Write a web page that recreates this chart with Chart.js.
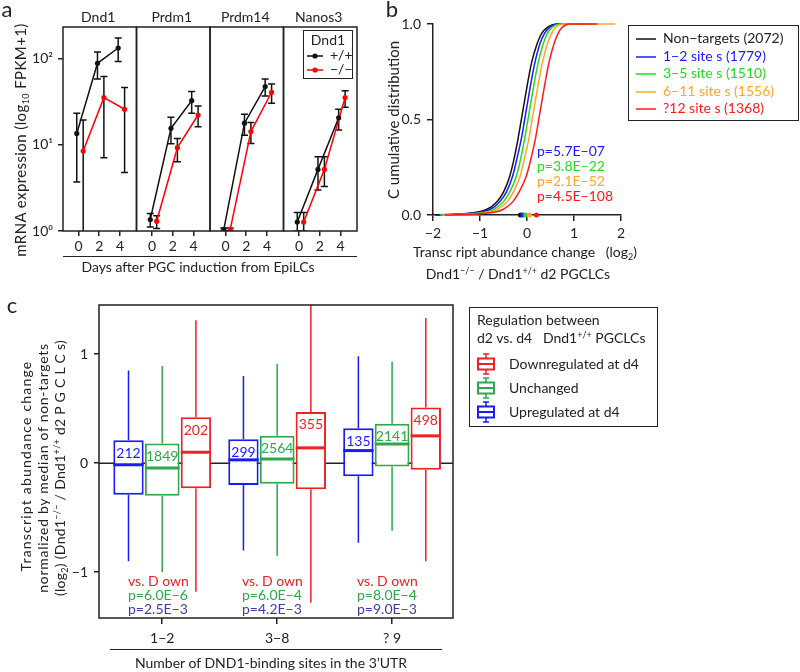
<!DOCTYPE html>
<html>
<head>
<meta charset="utf-8">
<script src="https://cdn.jsdelivr.net/npm/chart.js@4.4.1/dist/chart.umd.min.js"></script>
<style>
body { margin: 0; background: #fff; font-family: Lato, sans-serif; color: #222; }
#page { position: relative; width: 800px; height: 672px; overflow: hidden; }
canvas { position: absolute; left: 0; top: 0; }
.t { position: absolute; white-space: nowrap; line-height: 1; }
.t sup { font-size: 9px; vertical-align: 5px; line-height: 0; }
.t sub { font-size: 9px; vertical-align: -3px; line-height: 0; }
.box { position: absolute; border: 1.5px solid #222; box-sizing: border-box; }
.hl { position: absolute; border-top: 1.5px solid #222; height: 0; }
</style>
</head>
<body>
<div id="page"></div>
<script>
/* ---- panel a: expression time course ---- */
const days = [0, 2, 4];
const genes = ["Dnd1", "Prdm1", "Prdm14", "Nanos3"];
const wtMean = [[13.6, 89, 134], [1.36, 15.6, 32.7], [1.04, 17.9, 47.7], [1.27, 5.2, 20.7]];
const wtLow  = [[3.7, 58.6, 93.3], [1.11, 10.3, 23.4], [1.0, 13, 37.1], [1.0, 3.0, 14.9]];
const wtHigh = [[23.4, 120, 175], [1.6, 21, 41.7], [1.08, 22.7, 58.6], [1.64, 7.3, 26]];
const koMean = [[8.5, 35.5, 26], [1.3, 9.3, 22.3], [1.04, 14.3, 41], [1.27, 5.2, 35.5]];
const koLow  = [[0.5, 7.1, 4.8], [1.07, 6.4, 16.3], [1.0, 10.4, 30.5], [1.0, 3.3, 27.4]];
const koHigh = [[19.5, 62.4, 46.4], [1.5, 11.9, 28.4], [1.08, 18.3, 51.2], [1.64, 7.3, 42.8]];
const exprTicks = [1, 10, 100];
const exprTickLabels = ["10⁰", "10¹", "10²"];

/* ---- panel b: cumulative distributions ---- */
const cdfLevels   = [0, 0.01, 0.03, 0.07, 0.12, 0.2, 0.3, 0.4, 0.5, 0.6, 0.7, 0.8, 0.9, 0.95, 0.98, 1, 1];
const nonTargetX  = [-1.95, -1.2, -0.85, -0.64, -0.5, -0.37, -0.27, -0.19, -0.12, -0.05, 0.02, 0.1, 0.22, 0.31, 0.42, 0.65, 1.3];
const sites1to2X  = [-1.9, -1.1, -0.78, -0.58, -0.44, -0.31, -0.21, -0.12, -0.05, 0.02, 0.09, 0.17, 0.28, 0.37, 0.47, 0.68, 1.35];
const sites3to5X  = [-1.85, -1.0, -0.7, -0.5, -0.37, -0.23, -0.13, -0.05, 0.02, 0.09, 0.16, 0.24, 0.35, 0.43, 0.52, 0.72, 1.4];
const sites6to11X = [-1.8, -0.92, -0.62, -0.42, -0.29, -0.15, -0.05, 0.04, 0.11, 0.18, 0.25, 0.33, 0.44, 0.52, 0.6, 0.78, 1.88];
const sites12X    = [-1.75, -0.82, -0.5, -0.3, -0.17, -0.02, 0.09, 0.18, 0.25, 0.32, 0.39, 0.47, 0.58, 0.66, 0.74, 0.9, 1.5];
const setNames = ["Non−targets (2072)", "1−2 site s (1779)", "3−5 site s (1510)", "6−11 site s (1556)", "?12 site  s (1368)"];
const setMedians = [-0.14, -0.09, -0.03, 0.05, 0.2];
const setPValues = ["", "p=5.7E−07", "p=3.8E−22", "p=2.1E−52", "p=4.5E−108"];
const changeTicks = [-2, -1, 0, 1, 2];
const cdfTicks = [0, 0.5, 1];

/* ---- panel c: box plots (min, q1, median, q3, max) ---- */
const siteGroups = ["1−2", "3−8", "? 9"];
const regNames = ["Upregulated at d4", "Unchanged", "Downregulated at d4"];
const upregulated   = [[-0.90, -0.29, -0.015, 0.21, 0.85], [-0.80, -0.20, 0.03, 0.22, 0.80], [-0.73, -0.12, 0.115, 0.32, 0.98]];
const unchanged     = [[-1.00, -0.30, -0.045, 0.18, 0.89], [-0.85, -0.19, 0.037, 0.25, 0.91], [-0.62, -0.03, 0.175, 0.36, 0.93]];
const downregulated = [[-1.18, -0.23, 0.10, 0.42, 1.31], [-1.28, -0.24, 0.14, 0.47, 1.6], [-0.90, -0.06, 0.25, 0.51, 1.33]];
const upCounts = [212, 299, 135];
const unchangedCounts = [1849, 2564, 2141];
const downCounts = [202, 355, 498];
const vsLabel = "vs. D own";
const pUnchanged = ["p=6.0E−6", "p=6.0E−4", "p=8.0E−4"];
const pUp = ["p=2.5E−3", "p=4.2E−3", "p=9.0E−3"];
const changeAxisTicks = [-1, 0, 1];

/* styles */
const W = 800, H = 672;
const setColors = ["#111111", "#1a1aff", "#22dd22", "#ffa726", "#ff1a1a"];
const regColors = ["#1a1aff", "#2ea84a", "#ee2222"];
const WT_DODGE = -0.17, KO_DODGE = 0.45;

Chart.defaults.font.family = "Lato";
Chart.defaults.font.size = 14;
Chart.defaults.color = "#222";
Chart.defaults.animation = false;
Chart.defaults.responsive = false;
Chart.defaults.devicePixelRatio = 1;
Chart.defaults.plugins.legend.display = false;
Chart.defaults.plugins.tooltip.enabled = false;

const page = document.getElementById("page");

function makeCanvas() {
    const c = document.createElement("canvas");
    c.width = W; c.height = H;
    page.appendChild(c);
    return c;
}

// chart area placed exactly; yW / xH = room kept for the axis labels
function areaPadding(a, yW, xH) {
    return { left: a.left - yW, top: a.top, right: W - a.right, bottom: H - a.bottom - xH };
}

const fixW = w => s => { s.width = w; };
const fixH = h => s => { s.height = h; };
const setTicks = vals => s => { s.ticks = vals.map(v => ({ value: v })); };
const minus = v => String(v).replace("-", "−");

function tickGrid(len) {
    return { drawOnChartArea: false, drawTicks: true, tickLength: len, color: "#222", lineWidth: 1.5, offset: false };
}

function clipArea(ctx, a) {
    ctx.beginPath();
    ctx.rect(a.left, a.top, a.right - a.left, a.bottom - a.top);
    ctx.clip();
}

/* PLUGINS */
const framePlugin = {
    id: "frame",
    afterDraw(chart) {
        const a = chart.chartArea, ctx = chart.ctx;
        ctx.save();
        ctx.strokeStyle = "#222";
        ctx.lineWidth = 1.5;
        ctx.strokeRect(a.left, a.top, a.right - a.left, a.bottom - a.top);
        ctx.restore();
    }
};

const errorBarPlugin = {
    id: "errorBars",
    beforeDatasetsDraw(chart) {
        const { ctx, chartArea, scales: { x, y } } = chart;
        ctx.save();
        clipArea(ctx, chartArea);
        ctx.strokeStyle = "#111";
        ctx.lineWidth = 1.5;
        chart.data.datasets.forEach(ds => {
            ds.data.forEach((p, i) => {
                const px = x.getPixelForValue(p.x);
                const top = y.getPixelForValue(ds.errHigh[i]);
                const bot = y.getPixelForValue(ds.errLow[i]);
                ctx.beginPath();
                ctx.moveTo(px, top); ctx.lineTo(px, bot);
                ctx.moveTo(px - 3.5, top); ctx.lineTo(px + 3.5, top);
                ctx.moveTo(px - 3.5, bot); ctx.lineTo(px + 3.5, bot);
                ctx.stroke();
            });
        });
        ctx.restore();
    }
};

const boxPlugin = {
    id: "boxWhiskers",
    beforeDatasetsDraw(chart) {
        const { ctx, chartArea, scales: { y } } = chart;
        ctx.save();
        clipArea(ctx, chartArea);
        ctx.strokeStyle = "#222";
        ctx.lineWidth = 1.5;
        ctx.beginPath();
        ctx.moveTo(chartArea.left, y.getPixelForValue(0));
        ctx.lineTo(chartArea.right, y.getPixelForValue(0));
        ctx.stroke();
        chart.data.datasets.forEach((ds, di) => {
            chart.getDatasetMeta(di).data.forEach((bar, i) => {
                const s = ds.stats[i];
                ctx.strokeStyle = ds.borderColor;
                ctx.lineWidth = 1.5;
                ctx.beginPath();
                ctx.moveTo(bar.x, y.getPixelForValue(s[0]));
                ctx.lineTo(bar.x, y.getPixelForValue(s[1]));
                ctx.moveTo(bar.x, y.getPixelForValue(s[3]));
                ctx.lineTo(bar.x, y.getPixelForValue(s[4]));
                ctx.stroke();
            });
        });
        ctx.restore();
    },
    afterDatasetsDraw(chart) {
        const { ctx, scales: { y } } = chart;
        ctx.save();
        chart.data.datasets.forEach((ds, di) => {
            chart.getDatasetMeta(di).data.forEach((bar, i) => {
                const s = ds.stats[i];
                const my = y.getPixelForValue(s[2]);
                ctx.strokeStyle = ds.borderColor;
                ctx.lineWidth = 3;
                ctx.beginPath();
                ctx.moveTo(bar.x - bar.width / 2, my);
                ctx.lineTo(bar.x + bar.width / 2, my);
                ctx.stroke();
                ctx.fillStyle = ds.borderColor;
                ctx.font = "14px Lato";
                ctx.textAlign = "center";
                ctx.textBaseline = "middle";
                ctx.fillText(String(ds.counts[i]), bar.x, y.getPixelForValue(s[3]) + 13);
            });
        });
        ctx.restore();
    }
};

/* PANEL A */
const geneLeft = 63, genePanelW = 73.5;
genes.forEach((g, gi) => {
    const area = { left: geneLeft + gi * genePanelW, right: geneLeft + (gi + 1) * genePanelW, top: 27, bottom: 231 };
    const yW = gi === 0 ? 45 : 0;
    new Chart(makeCanvas(), {
        type: "line",
        data: {
            datasets: [
                {
                    label: "−/−",
                    data: days.map((d, i) => ({ x: d + KO_DODGE, y: koMean[gi][i] })),
                    errLow: koLow[gi], errHigh: koHigh[gi],
                    borderColor: "#ff0000", backgroundColor: "#ff0000", order: 2
                },
                {
                    label: "+/+",
                    data: days.map((d, i) => ({ x: d + WT_DODGE, y: wtMean[gi][i] })),
                    errLow: wtLow[gi], errHigh: wtHigh[gi],
                    borderColor: "#111", backgroundColor: "#111", order: 1
                }
            ]
        },
        options: {
            layout: { padding: areaPadding(area, yW, 30) },
            elements: { line: { borderWidth: 1.5 }, point: { radius: 2.6, borderWidth: 0 } },
            scales: {
                x: {
                    type: "linear", min: -1.5, max: 5.6, offset: false,
                    afterFit: fixH(30), afterBuildTicks: setTicks(days),
                    ticks: { padding: 2, autoSkip: false, maxRotation: 0 },
                    grid: tickGrid(5), border: { display: false }
                },
                y: {
                    type: "logarithmic", min: 1, max: 235, display: gi === 0,
                    afterFit: fixW(yW), afterBuildTicks: setTicks(exprTicks),
                    ticks: { padding: 5, autoSkip: false, callback: v => exprTickLabels[exprTicks.indexOf(v)] },
                    grid: tickGrid(5), border: { display: false }
                }
            }
        },
        plugins: [errorBarPlugin, framePlugin]
    });
});

/* PANEL B */
const curveX = [nonTargetX, sites1to2X, sites3to5X, sites6to11X, sites12X];
const areaB = { left: 433, right: 621, top: 24, bottom: 215 };
new Chart(makeCanvas(), {
    type: "line",
    data: {
        datasets: [
            {
                label: "medians",
                data: setMedians.map(m => ({ x: m, y: 0 })),
                showLine: false, pointRadius: 2.5, pointBorderWidth: 0,
                pointBackgroundColor: setColors, order: 0, clip: false
            },
            ...curveX.map((xs, k) => ({
                label: setNames[k],
                data: xs.map((x, i) => ({ x: x, y: cdfLevels[i] })),
                borderColor: setColors[k], borderWidth: 1.5,
                pointRadius: 0, cubicInterpolationMode: "monotone",
                order: 10 - k, clip: false
            }))
        ]
    },
    options: {
        layout: { padding: areaPadding(areaB, 40, 30) },
        scales: {
            x: {
                type: "linear", min: -2, max: 2,
                afterFit: fixH(30), afterBuildTicks: setTicks(changeTicks),
                ticks: { padding: 4, autoSkip: false, maxRotation: 0, callback: v => minus(v) },
                grid: tickGrid(6), border: { display: true, color: "#222", width: 1.5 }
            },
            y: {
                type: "linear", min: 0, max: 1,
                afterFit: fixW(40), afterBuildTicks: setTicks(cdfTicks),
                ticks: { padding: 6, autoSkip: false, callback: v => v.toFixed(1) },
                grid: tickGrid(6), border: { display: true, color: "#222", width: 1.5 }
            }
        }
    }
});

/* PANEL C */
const regStats = [upregulated, unchanged, downregulated];
const regCounts = [upCounts, unchangedCounts, downCounts];
const areaC = { left: 99, right: 453, top: 305, bottom: 618 };
new Chart(makeCanvas(), {
    type: "bar",
    data: {
        datasets: regStats.map((st, k) => ({
            label: regNames[k],
            data: st.map((s, i) => ({ x: i + 1, y: [s[1], s[3]] })),
            stats: st, counts: regCounts[k],
            backgroundColor: "#fff", borderColor: regColors[k], borderWidth: 2,
            borderSkipped: false,
            categoryPercentage: 0.88, barPercentage: k === 1 ? 1.03 : 0.9
        }))
    },
    options: {
        layout: { padding: areaPadding(areaC, 40, 30) },
        scales: {
            x: {
                type: "linear", min: 0.45, max: 3.53, offset: false,
                afterFit: fixH(30), afterBuildTicks: setTicks([1, 2, 3]),
                ticks: { padding: 6, autoSkip: false, maxRotation: 0, callback: v => siteGroups[v - 1] },
                grid: tickGrid(6), border: { display: false }
            },
            y: {
                type: "linear", min: -1.42, max: 1.45,
                afterFit: fixW(40), afterBuildTicks: setTicks(changeAxisTicks),
                ticks: { padding: 6, autoSkip: false, callback: v => minus(v) },
                grid: tickGrid(5), border: { display: false }
            }
        }
    },
    plugins: [boxPlugin, framePlugin]
});

/* TEXT */
function addText(html, x, y, o = {}) {
    const d = document.createElement("div");
    d.className = "t";
    d.innerHTML = html;
    d.style.left = x + "px";
    d.style.top = y + "px";
    d.style.fontSize = (o.size || 14) + "px";
    if (o.spacing) d.style.letterSpacing = o.spacing + "px";
    if (o.color) d.style.color = o.color;
    const ax = o.align === "left" ? "0" : "-50%";
    d.style.transform = `translate(${ax},-50%)` + (o.rotate ? " rotate(-90deg)" : "");
    page.appendChild(d);
    return d;
}

function addBox(l, t, w, h) {
    const d = document.createElement("div");
    d.className = "box";
    Object.assign(d.style, { left: l + "px", top: t + "px", width: w + "px", height: h + "px" });
    page.appendChild(d);
}

function addLine(x1, x2, y) {
    const d = document.createElement("div");
    d.className = "hl";
    Object.assign(d.style, { left: x1 + "px", top: y + "px", width: (x2 - x1) + "px" });
    page.appendChild(d);
}

function dotGlyph(color) {
    return `<svg width="16" height="8" style="vertical-align:middle"><line x1="0" y1="4" x2="16" y2="4" stroke="${color}" stroke-width="1.5"/><circle cx="8" cy="4" r="2.6" fill="${color}"/></svg>`;
}

function boxGlyph(color) {
    return `<svg width="20" height="22" style="vertical-align:middle"><g stroke="${color}" stroke-width="1.5" fill="#fff">` +
        `<line x1="10" y1="1" x2="10" y2="21"/><line x1="7" y1="1" x2="13" y2="1"/><line x1="7" y1="21" x2="13" y2="21"/>` +
        `<rect x="2" y="5.5" width="16" height="11" stroke-width="2"/><line x1="2" y1="11" x2="18" y2="11" stroke-width="2"/></g></svg>`;
}

/* a */
addText("a", 7, 9, { size: 22 });
genes.forEach((g, gi) => addText(g, geneLeft + (gi + 0.5) * genePanelW - 1.5, 17));
addText("mRNA expression (log<sub>10</sub> FPKM+1)", 20, 140, { rotate: true, size: 15, spacing: 0.4 });
addLine(63, 357, 256);
addText("Days after PGC induction from EpiLCs", 198, 267);
addBox(303, 30, 50, 49);
addText("Dnd1", 328, 40);
addText(dotGlyph("#111"), 307, 55, { align: "left" });
addText("+/+", 330, 55, { align: "left" });
addText(dotGlyph("#ff0000"), 307, 69, { align: "left" });
addText("−/−", 330, 69, { align: "left" });

/* b */
addText("b", 392, 9, { size: 22 });
addText("C umulative distribution", 393, 120, { rotate: true, size: 15 });
addText("Transc ript abundance change &nbsp; (log<sub>2</sub>)", 525, 252);
addText("Dnd1<sup>−/−</sup> / Dnd1<sup>+/+</sup> d2 PGCLCs", 518, 274);
setPValues.forEach((p, k) => { if (p) addText(p, 537, 136 + k * 15, { align: "left", color: setColors[k] }); });
addBox(628, 25, 171, 96);
setNames.forEach((n, k) => {
    const yy = 38 + k * 17.5;
    addText(`<svg width="20" height="4" style="vertical-align:middle"><line x1="0" y1="2" x2="20" y2="2" stroke="${setColors[k]}" stroke-width="1.5"/></svg>`, 636, yy, { align: "left" });
    addText(n, 663, yy, { align: "left", color: k === 0 ? "#222" : setColors[k] });
});

/* c */
addText("c", 12, 305, { size: 22 });
addText("Transcript abundance change", 26, 466, { rotate: true, size: 14, spacing: 1.2 });
addText("normalized by median of non-targets", 43, 468, { rotate: true, size: 14, spacing: 0.7 });
addText("(log<sub>2</sub>) (Dnd1<sup>−/−</sup> / Dnd1<sup>+/+</sup> d2 P G C L C s)", 60, 468, { rotate: true, size: 14, spacing: 0.3 });
const annX = [128, 242, 357];
siteGroups.forEach((g, i) => {
    addText(vsLabel, annX[i], 581, { align: "left", color: regColors[2] });
    addText(pUnchanged[i], annX[i], 595, { align: "left", color: regColors[1] });
    addText(pUp[i], annX[i], 609, { align: "left", color: "#3c3ca8" });
});
addLine(110, 442, 649);
addText("Number of DND1-binding sites in the 3’UTR", 271, 663);
addBox(469, 307, 189, 120);
addText("Regulation between", 477, 320, { align: "left" });
addText("d2 vs. d4 &nbsp; Dnd1<sup>+/+</sup> PGCLCs", 477, 338, { align: "left" });
[2, 1, 0].forEach((k, r) => {
    const yy = 364 + r * 24;
    addText(boxGlyph(regColors[k]), 476, yy, { align: "left" });
    addText(regNames[k], 509, yy, { align: "left" });
});
</script>
</body>
</html>
